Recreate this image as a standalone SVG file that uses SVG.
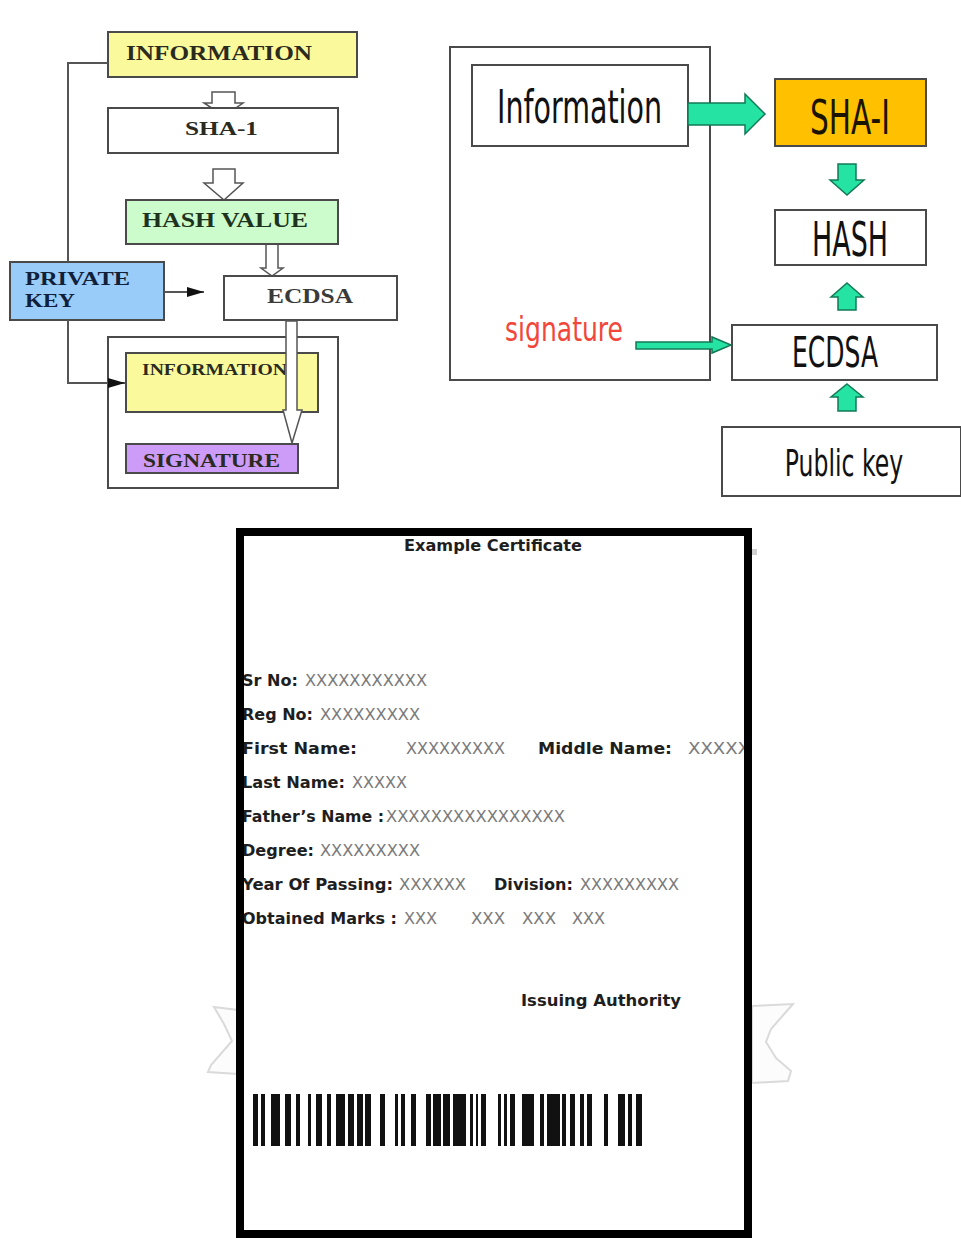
<svg xmlns="http://www.w3.org/2000/svg" width="961" height="1238" viewBox="0 0 961 1238">
  <defs>
    <marker id="tri" markerUnits="userSpaceOnUse" markerWidth="17" markerHeight="10" refX="17" refY="5" orient="auto">
      <path d="M0,0 L17,5 L0,10 Z" fill="#111"/>
    </marker>
    <style>
      .box { stroke: #4a4a4a; stroke-width: 2; }
      .serif { font-family: "Liberation Serif", "Times New Roman", serif; font-weight: bold; fill: #2a2a1e; }
      .sans { font-family: "DejaVu Sans", Verdana, sans-serif; fill: #111; }
      .hollow { fill: #fff; stroke: #555; stroke-width: 1.5; }
      .mint { fill: #25e3a3; stroke: #127a55; stroke-width: 1.5; }
      .lbl { font-family: "DejaVu Sans", Verdana, sans-serif; font-weight: bold; font-size: 16px; fill: #1e1e1e; }
      .val { font-family: "DejaVu Sans", Verdana, sans-serif; font-size: 15px; fill: #7a7a7a; }
      .line { fill: none; stroke: #555; stroke-width: 2; }
    </style>
  </defs>
  <rect width="961" height="1238" fill="#fff"/>

  <!-- Signing flow (left) -->
  <g id="connectors-sign-hollow">
    <path class="hollow" d="M212,92 H235 V103 H243 L224,116 L204,103 H212 Z"/>
    <path class="hollow" d="M213,169 H235 V183 H243 L224,200 L204,183 H213 Z"/>
    <path class="hollow" d="M266,244 H278 V268 H283 L272,276 L261,268 H266 Z"/>
  </g>
  <g id="s-information">
    <rect class="box" x="108" y="32" width="249" height="45" fill="#fafa9c"/>
    <text class="serif" x="126" y="60" font-size="20" textLength="186" lengthAdjust="spacingAndGlyphs">INFORMATION</text>
  </g>
  <g id="s-sha1">
    <rect class="box" x="108" y="108" width="230" height="45" fill="#fff"/>
    <text class="serif" x="185" y="135" font-size="19" textLength="73" lengthAdjust="spacingAndGlyphs">SHA-1</text>
  </g>
  <g id="s-hash">
    <rect class="box" x="126" y="200" width="212" height="44" fill="#ccfccc"/>
    <text class="serif" x="142" y="227" font-size="20" textLength="166" lengthAdjust="spacingAndGlyphs" style="fill:#1e3220">HASH VALUE</text>
  </g>
  <g id="s-private-key">
    <rect class="box" x="10" y="262" width="154" height="58" fill="#99ccf8"/>
    <text class="serif" x="25" y="285" font-size="19" textLength="105" lengthAdjust="spacingAndGlyphs" style="fill:#10203a">PRIVATE</text>
    <text class="serif" x="25" y="307" font-size="19" textLength="50" lengthAdjust="spacingAndGlyphs" style="fill:#10203a">KEY</text>
  </g>
  <g id="s-ecdsa">
    <rect class="box" x="224" y="276" width="173" height="44" fill="#fff"/>
    <text class="serif" x="267" y="303" font-size="20" textLength="86" lengthAdjust="spacingAndGlyphs" style="fill:#3a3a3a">ECDSA</text>
  </g>
  <g id="s-signed">
    <rect class="box" x="108" y="337" width="230" height="151" fill="#fff"/>
    <rect class="box" x="126" y="353" width="192" height="59" fill="#fafa9c"/>
    <text class="serif" x="142" y="375" font-size="17" textLength="145" lengthAdjust="spacingAndGlyphs">INFORMATION</text>
    <rect class="box" x="126" y="444" width="172" height="29" fill="#cc9cf8"/>
    <text class="serif" x="143" y="467" font-size="19" textLength="137" lengthAdjust="spacingAndGlyphs">SIGNATURE</text>
  </g>
  <g id="connectors-sign">
    <polyline class="line" points="108,63 68,63 68,262"/>
    <polyline class="line" points="68,320 68,383 125,383" marker-end="url(#tri)"/>
    <line class="line" x1="164" y1="292" x2="204" y2="292" marker-end="url(#tri)"/>
    <path class="hollow" d="M286,321 H297 V410 H302 L292,443 L283,410 H286 Z"/>
  </g>

  <!-- Verification flow (right) -->
  <g id="v-document">
    <rect class="box" x="450" y="47" width="260" height="333" fill="#fff"/>
    <rect class="box" x="472" y="65" width="216" height="81" fill="#fff"/>
    <text class="sans" x="497" y="123" font-size="46" textLength="165" lengthAdjust="spacingAndGlyphs">Information</text>
    <text class="sans" x="505" y="341" font-size="34" textLength="118" lengthAdjust="spacingAndGlyphs" style="fill:#f2463a">signature</text>
  </g>
  <g id="v-sha">
    <rect class="box" x="775" y="79" width="151" height="67" fill="#ffc000"/>
    <text class="sans" x="850" y="134" font-size="48" text-anchor="middle" textLength="80" lengthAdjust="spacingAndGlyphs" style="fill:#1a1400">SHA-I</text>
  </g>
  <g id="v-hash">
    <rect class="box" x="775" y="210" width="151" height="55" fill="#fff"/>
    <text class="sans" x="850" y="256" font-size="48" text-anchor="middle" textLength="76" lengthAdjust="spacingAndGlyphs">HASH</text>
  </g>
  <g id="v-ecdsa">
    <rect class="box" x="732" y="325" width="205" height="55" fill="#fff"/>
    <text class="sans" x="835" y="367" font-size="42" text-anchor="middle" textLength="86" lengthAdjust="spacingAndGlyphs">ECDSA</text>
  </g>
  <g id="v-public-key">
    <rect class="box" x="722" y="427" width="239" height="69" fill="#fff"/>
    <text class="sans" transform="translate(844,476) scale(0.62,1)" x="0" y="0" font-size="38" text-anchor="middle">Public key</text>
  </g>
  <g id="connectors-verify">
    <path class="mint" d="M688,103 H745 V94 L765,114 L745,134 V125 H688 Z"/>
    <path class="mint" d="M838,164 H856 V180 H864 L847,195 L830,180 H838 Z"/>
    <path class="mint" d="M847,283 L863,297 H856 V310 H838 V297 H831 Z"/>
    <path class="mint" d="M847,384 L863,397 H856 V411 H838 V397 H831 Z"/>
    <path class="mint" d="M636,342 H712 V337 L731,345 L712,353 V349 H636 Z"/>
  </g>

  <!-- Certificate -->
  <g id="ribbon-tails" fill="#fcfcfc" stroke="#dadada" stroke-width="2">
    <path d="M214,1007 L238,1010 L238,1074 L208,1072 L211,1065 L232,1041 L224,1024 Z"/>
    <path d="M752,1006 L793,1004 L771,1029 L766,1042 L776,1058 L791,1071 L788,1081 L752,1083 Z"/>
  </g>
  <rect x="752" y="549" width="5" height="6" fill="#cfcfcf"/>
  <g id="certificate">
    <rect x="240" y="532" width="508" height="702" fill="#fff"/>
    <text class="lbl" x="404" y="551" textLength="178" lengthAdjust="spacingAndGlyphs">Example Certificate</text>

    <text class="lbl" x="242" y="686" textLength="56" lengthAdjust="spacingAndGlyphs">Sr No:</text>
    <text class="val" x="305" y="686" textLength="122" lengthAdjust="spacingAndGlyphs">XXXXXXXXXXX</text>

    <text class="lbl" x="242" y="720" textLength="71" lengthAdjust="spacingAndGlyphs">Reg No:</text>
    <text class="val" x="320" y="720" textLength="100" lengthAdjust="spacingAndGlyphs">XXXXXXXXX</text>

    <text class="lbl" x="242" y="754" textLength="115" lengthAdjust="spacingAndGlyphs">First  Name:</text>
    <text class="val" x="406" y="754" textLength="99" lengthAdjust="spacingAndGlyphs">XXXXXXXXX</text>
    <text class="lbl" x="538" y="754" textLength="134" lengthAdjust="spacingAndGlyphs">Middle  Name:</text>
    <text class="val" x="688" y="754" textLength="62" lengthAdjust="spacingAndGlyphs">XXXXX</text>

    <text class="lbl" x="242" y="788" textLength="103" lengthAdjust="spacingAndGlyphs">Last Name:</text>
    <text class="val" x="352" y="788" textLength="55" lengthAdjust="spacingAndGlyphs">XXXXX</text>

    <text class="lbl" x="242" y="822" textLength="142" lengthAdjust="spacingAndGlyphs">Father’s Name :</text>
    <text class="val" x="386" y="822" textLength="179" lengthAdjust="spacingAndGlyphs">XXXXXXXXXXXXXXXX</text>

    <text class="lbl" x="242" y="856" textLength="72" lengthAdjust="spacingAndGlyphs">Degree:</text>
    <text class="val" x="320" y="856" textLength="100" lengthAdjust="spacingAndGlyphs">XXXXXXXXX</text>

    <text class="lbl" x="242" y="890" textLength="151" lengthAdjust="spacingAndGlyphs">Year Of Passing:</text>
    <text class="val" x="399" y="890" textLength="67" lengthAdjust="spacingAndGlyphs">XXXXXX</text>
    <text class="lbl" x="494" y="890" textLength="79" lengthAdjust="spacingAndGlyphs">Division:</text>
    <text class="val" x="580" y="890" textLength="99" lengthAdjust="spacingAndGlyphs">XXXXXXXXX</text>

    <text class="lbl" x="242" y="924" textLength="155" lengthAdjust="spacingAndGlyphs">Obtained Marks :</text>
    <text class="val" x="404" y="924" textLength="33" lengthAdjust="spacingAndGlyphs">XXX</text>
    <text class="val" x="471" y="924" textLength="34" lengthAdjust="spacingAndGlyphs">XXX</text>
    <text class="val" x="522" y="924" textLength="34" lengthAdjust="spacingAndGlyphs">XXX</text>
    <text class="val" x="572" y="924" textLength="33" lengthAdjust="spacingAndGlyphs">XXX</text>

    <text class="lbl" x="521" y="1006" textLength="160" lengthAdjust="spacingAndGlyphs">Issuing Authority</text>

    <!-- barcode -->
    <g id="barcode" fill="#111">
      <rect x="253" y="1094" width="5" height="52"/>
      <rect x="261" y="1094" width="4" height="52"/>
      <rect x="271" y="1094" width="9" height="52"/>
      <rect x="285" y="1094" width="6" height="52"/>
      <rect x="296" y="1094" width="4" height="52"/>
      <rect x="308" y="1094" width="3" height="52"/>
      <rect x="316" y="1094" width="6" height="52"/>
      <rect x="327" y="1094" width="4" height="52"/>
      <rect x="336" y="1094" width="9" height="52"/>
      <rect x="348" y="1094" width="6" height="52"/>
      <rect x="357" y="1094" width="6" height="52"/>
      <rect x="365" y="1094" width="6" height="52"/>
      <rect x="380" y="1094" width="5" height="52"/>
      <rect x="395" y="1094" width="3" height="52"/>
      <rect x="401" y="1094" width="4" height="52"/>
      <rect x="411" y="1094" width="5" height="52"/>
      <rect x="426" y="1094" width="5" height="52"/>
      <rect x="433" y="1094" width="8" height="52"/>
      <rect x="443" y="1094" width="7" height="52"/>
      <rect x="453" y="1094" width="13" height="52"/>
      <rect x="470" y="1094" width="3" height="52"/>
      <rect x="476" y="1094" width="2" height="52"/>
      <rect x="481" y="1094" width="5" height="52"/>
      <rect x="498" y="1094" width="3" height="52"/>
      <rect x="504" y="1094" width="3" height="52"/>
      <rect x="510" y="1094" width="5" height="52"/>
      <rect x="522" y="1094" width="12" height="52"/>
      <rect x="540" y="1094" width="4" height="52"/>
      <rect x="547" y="1094" width="13" height="52"/>
      <rect x="562" y="1094" width="4" height="52"/>
      <rect x="570" y="1094" width="5" height="52"/>
      <rect x="580" y="1094" width="4" height="52"/>
      <rect x="587" y="1094" width="5" height="52"/>
      <rect x="604" y="1094" width="4" height="52"/>
      <rect x="618" y="1094" width="7" height="52"/>
      <rect x="628" y="1094" width="4" height="52"/>
      <rect x="636" y="1094" width="6" height="52"/>
    </g>

    <rect x="240" y="532" width="508" height="702" fill="none" stroke="#000" stroke-width="8"/>
  </g>
</svg>
